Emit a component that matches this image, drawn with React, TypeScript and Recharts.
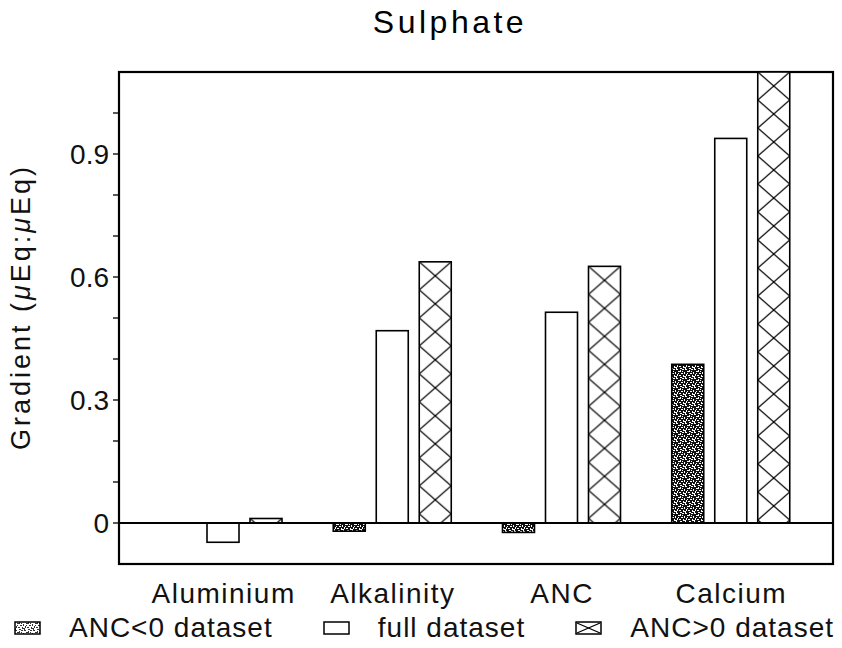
import { BarChart, Bar, XAxis, YAxis, ReferenceLine } from "recharts";

const categories = ["Aluminium", "Alkalinity", "ANC", "Calcium"];
const ancNegative = [0, -0.02, -0.023, 0.387];
const fullDataset = [-0.047, 0.469, 0.514, 0.938];
const ancPositive = [0.011, 0.637, 0.626, 1.1];

const yTicks = [0, 0.1, 0.2, 0.3, 0.4, 0.5, 0.6, 0.7, 0.8, 0.9, 1.0];
const yLabelled = [0, 0.3, 0.6, 0.9];

const WIDTH = 842;
const HEIGHT = 648;
const MARGIN = { top: 72, right: 9, bottom: 54, left: 59 };
const X_AXIS_HEIGHT = 30;
const Y_AXIS_WIDTH = 60;
const PLOT_LEFT = MARGIN.left + Y_AXIS_WIDTH;
const PLOT_RIGHT = WIDTH - MARGIN.right;
const PLOT_TOP = MARGIN.top;
const PLOT_BOTTOM = HEIGHT - MARGIN.bottom - X_AXIS_HEIGHT;

const FONT = "'Liberation Sans', Arial, Helvetica, sans-serif";

const data = categories.map((name, i) => ({
  name,
  neg: ancNegative[i],
  full: fullDataset[i],
  pos: ancPositive[i],
}));

type Kind = "neg" | "full" | "pos";

const series: { key: Kind; name: string }[] = [
  { key: "neg", name: "ANC<0 dataset" },
  { key: "full", name: "full dataset" },
  { key: "pos", name: "ANC>0 dataset" },
];

// white specks punched out of a black tile, gives the grainy stipple fill
const specks = [
  [1, 0, 2, 1], [5, 1, 1, 2], [7, 0, 2, 1], [0, 3, 1, 2], [3, 2, 2, 1],
  [6, 4, 2, 1], [2, 5, 1, 2], [4, 6, 2, 1], [8, 6, 1, 2], [0, 7, 2, 1],
  [5, 8, 2, 1], [3, 4, 1, 1], [7, 2, 1, 1], [1, 8, 1, 1],
];

function StippleDefs() {
  return (
    <defs>
      <pattern id="stipple" width={9} height={9} patternUnits="userSpaceOnUse">
        <rect width={9} height={9} fill="#111" />
        {specks.map(([x, y, w, h], i) => (
          <rect key={i} x={x} y={y} width={w} height={h} fill="#fff" />
        ))}
      </pattern>
    </defs>
  );
}

function makeShape(kind: Kind) {
  return (props: any) => {
    const { x, y, width, height, index } = props;
    const top = Math.min(y, y + height);
    const h = Math.abs(height);
    const cx = x + width / 2;
    const id = `hatch-${index}`;
    let fill = "#fff";
    if (kind === "neg") fill = "url(#stipple)";
    if (kind === "pos") fill = `url(#${id})`;
    return (
      <g>
        {kind === "pos" && (
          <defs>
            <pattern id={id} x={x} y={top} width={width} height={28} patternUnits="userSpaceOnUse">
              <rect width={width} height={28} fill="#fff" />
              <line x1={0} y1={0} x2={width} y2={28} stroke="#000" strokeWidth={1.3} />
              <line x1={width} y1={0} x2={0} y2={28} stroke="#000" strokeWidth={1.3} />
            </pattern>
          </defs>
        )}
        {h > 0.5 && (
          <rect x={x} y={top} width={width} height={h} fill={fill} stroke="#000" strokeWidth={1.6} />
        )}
        <line x1={cx} x2={cx} y1={PLOT_BOTTOM + 3} y2={PLOT_BOTTOM + 8} stroke="#000" strokeWidth={1.3} />
      </g>
    );
  };
}

function LegendSwatch({ kind }: { kind: Kind }) {
  return (
    <svg width={27} height={14} style={{ display: "block" }}>
      <defs>
        <pattern id="legend-stipple" width={9} height={9} patternUnits="userSpaceOnUse">
          <rect width={9} height={9} fill="#fff" />
          {specks.map(([x, y, w, h], i) => (
            <rect key={i} x={x} y={y} width={w} height={h} fill="#333" />
          ))}
        </pattern>
      </defs>
      <rect
        x={1}
        y={1}
        width={25}
        height={12}
        fill={kind === "neg" ? "url(#legend-stipple)" : "#fff"}
        stroke="#000"
        strokeWidth={1.5}
      />
      {kind === "pos" && (
        <>
          <line x1={2} y1={2} x2={25} y2={12} stroke="#000" strokeWidth={1.2} />
          <line x1={25} y1={2} x2={2} y2={12} stroke="#000" strokeWidth={1.2} />
        </>
      )}
    </svg>
  );
}

export default function App() {
  return (
    <div style={{ position: "absolute", left: 0, top: 0, width: WIDTH, height: HEIGHT, background: "#fff" }}>
      <BarChart
        width={WIDTH}
        height={HEIGHT}
        data={data}
        margin={MARGIN}
        barGap={11}
        barCategoryGap={25}
      >
        <StippleDefs />
        <text
          x={450}
          y={33}
          textAnchor="middle"
          fontFamily={FONT}
          fontSize={32}
          letterSpacing={3.5}
          fill="#000"
        >
          Sulphate
        </text>
        <text
          transform="translate(21 307) rotate(-90)"
          textAnchor="middle"
          dominantBaseline="central"
          fontFamily={FONT}
          fontSize={27}
          letterSpacing={3}
          fill="#111"
        >
          Gradient (<tspan fontStyle="italic">μ</tspan>Eq:<tspan fontStyle="italic">μ</tspan>Eq)
        </text>
        <XAxis
          dataKey="name"
          height={X_AXIS_HEIGHT}
          padding={{ left: 20, right: 17 }}
          axisLine={false}
          tickLine={false}
          tickSize={0}
          tickMargin={19}
          interval={0}
          tick={{ fill: "#111", fontSize: 28, fontFamily: FONT, letterSpacing: 1.5 }}
        />
        <YAxis
          width={Y_AXIS_WIDTH}
          domain={[-0.1, 1.1]}
          ticks={yTicks}
          allowDataOverflow
          axisLine={false}
          tickLine={{ stroke: "#000", strokeWidth: 1.3 }}
          tickSize={6}
          tickMargin={4}
          interval={0}
          tickFormatter={(v: number) => (yLabelled.includes(v) ? String(v) : "")}
          tick={{ fill: "#111", fontSize: 28, fontFamily: FONT }}
        />
        <ReferenceLine y={0} stroke="#000" strokeWidth={2.2} />
        {series.map((s) => (
          <Bar
            key={s.key}
            dataKey={s.key}
            name={s.name}
            shape={makeShape(s.key)}
            isAnimationActive={false}
          />
        ))}
        <rect
          x={PLOT_LEFT}
          y={PLOT_TOP}
          width={PLOT_RIGHT - PLOT_LEFT}
          height={PLOT_BOTTOM - PLOT_TOP}
          fill="none"
          stroke="#000"
          strokeWidth={2.2}
        />
      </BarChart>
      <div
        style={{
          position: "absolute",
          left: 14,
          right: 8,
          top: 612,
          display: "flex",
          justifyContent: "space-between",
          alignItems: "center",
          fontFamily: FONT,
          fontSize: 28,
          letterSpacing: 1,
          color: "#111",
        }}
      >
        {series.map((s) => (
          <div key={s.key} style={{ display: "flex", alignItems: "center", gap: 28 }}>
            <LegendSwatch kind={s.key} />
            <span>{s.name}</span>
          </div>
        ))}
      </div>
    </div>
  );
}
